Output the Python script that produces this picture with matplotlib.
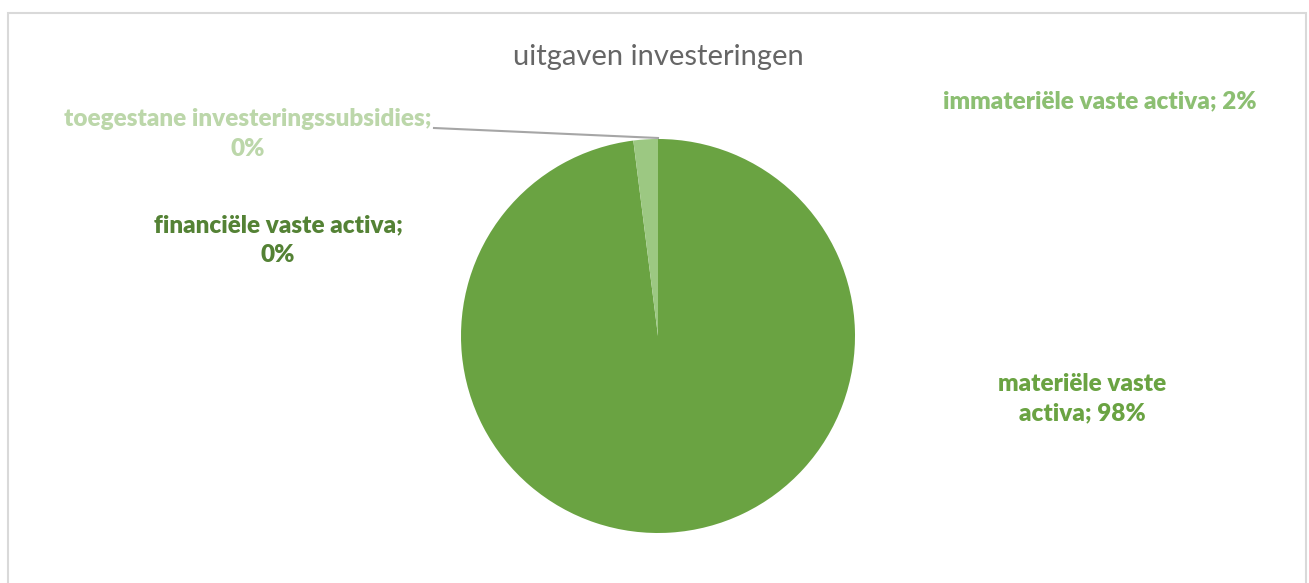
import matplotlib
matplotlib.use('Agg')
import matplotlib.pyplot as plt
from matplotlib.patches import Rectangle

# slices, clockwise from 12 o'clock
categories = ['materiële vaste activa', 'immateriële vaste activa',
              'financiële vaste activa', 'toegestane investeringssubsidies']
shares = [98, 2, 0, 0]
slice_colors = ['#6aa342', '#9cc882', '#548235', '#c5e0b4']
label_colors = ['#6aa342', '#8cbf72', '#548235', '#bcd7aa']

W, H = 1309, 583

fig = plt.figure(figsize=(W / 100, H / 100), dpi=100)
ax = fig.add_axes([0, 0, 1, 1])
ax.axis('off')

# chart area border
fig.patches.append(Rectangle((7.5 / W, -0.1), (1306 - 7.5) / W, 1.1 - 13.5 / H,
                             transform=fig.transFigure, fill=False,
                             edgecolor='#d9d9d9', linewidth=1.5))

cx, cy, r = 658, H - 336, 197
ax.pie(shares, colors=slice_colors, startangle=90, counterclock=False,
       center=(cx, cy), radius=r, wedgeprops=dict(linewidth=0))
ax.set_xlim(0, W)
ax.set_ylim(0, H)
ax.set_aspect('equal')

font = 'Lato'
ax.text(658, H - 57, 'uitgaven investeringen', ha='center', va='center',
        fontsize=21, color='#666666', family=font)


def label(i, text, x, y):
    ax.text(x, H - y, text, ha='center', va='center', fontsize=17.5,
            fontweight='heavy', color=label_colors[i], family=font,
            linespacing=1.42)


label(0, 'materiële vaste\nactiva; %d%%' % shares[0], 1082, 399)
label(1, '%s; %d%%' % (categories[1], shares[1]), 1100, 101)
label(2, '%s;\n%d%%' % (categories[2], shares[2]), 278, 240)
label(3, '%s;\n%d%%' % (categories[3], shares[3]), 248, 134)

# leader line for the tiny slice label
ax.plot([434, cx], [H - 128, H - 138], color='#a6a6a6', linewidth=1.5)

plt.savefig('out.png', dpi=100)
